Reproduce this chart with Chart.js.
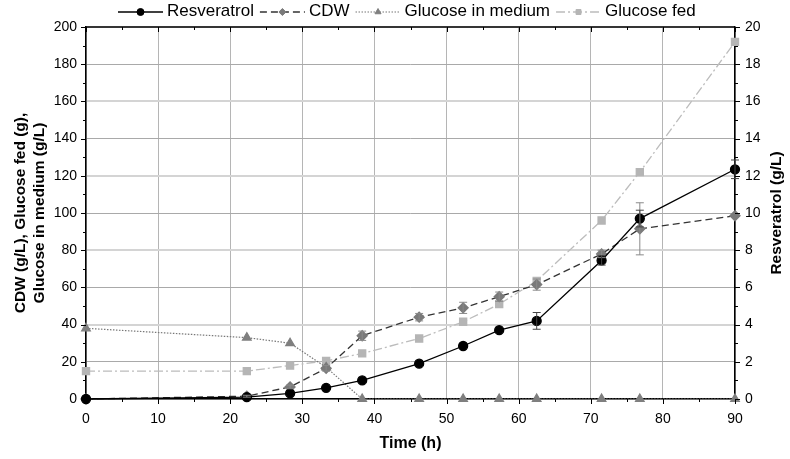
<!DOCTYPE html>
<html>
<head>
<meta charset="utf-8">
<script src="https://cdn.jsdelivr.net/npm/chart.js@4/dist/chart.umd.min.js"></script>
<style>
  body { margin: 0; background: #fff; }
  canvas { display: block; }
</style>
</head>
<body>
<canvas id="chart" width="790" height="459"></canvas>
<script>
// data
var timeH = [0, 22.3, 28.3, 33.3, 38.3, 46.2, 52.3, 57.3, 62.5, 71.5, 76.8, 90];
var resveratrol = [0, 0.1, 0.3, 0.6, 1.0, 1.9, 2.85, 3.7, 4.2, 7.45, 9.7, 12.35];
var resveratrolErr = [0, 0, 0, 0, 0, 0, 0, 0, 0.45, 0.25, 0.45, 0.5];
var cdw = [0, 1.5, 6.5, 16.5, 34, 44, 49, 55, 61.5, 78, 91.5, 98.5];
var cdwErr = [0, 0.5, 1, 1.5, 2.5, 2, 3, 2.5, 3, 2, 14, 0];
var glucoseMedium = [38, 33, 30, 17, 0, 0, 0, 0, 0, 0, 0, 0];
var glucoseFed = [15, 15, 18, 20.5, 24.5, 32.5, 41.5, 51, 63.5, 96, 122, 192];

var FONT = "'Liberation Sans', Arial, sans-serif";

function pts(ys) {
    return timeH.map(function(t, i) { return { x: t, y: ys[i] }; });
}

// error bars, minor ticks, top frame, legend, right title
var extras = {
    id: 'extras',
    afterDatasetsDraw: function(chart) {
        var ctx = chart.ctx;
        var xs = chart.scales.x, yl = chart.scales.y, yr = chart.scales.y1;

        function errBars(vals, errs, scale, color) {
            ctx.save();
            ctx.strokeStyle = color;
            ctx.lineWidth = 1;
            vals.forEach(function(v, i) {
                if (!errs[i]) return;
                var px = xs.getPixelForValue(timeH[i]);
                var top = scale.getPixelForValue(v + errs[i]);
                var bot = scale.getPixelForValue(v - errs[i]);
                ctx.beginPath();
                ctx.moveTo(px, top); ctx.lineTo(px, bot);
                ctx.moveTo(px - 4, top); ctx.lineTo(px + 4, top);
                ctx.moveTo(px - 4, bot); ctx.lineTo(px + 4, bot);
                ctx.stroke();
            });
            ctx.restore();
        }
        errBars(cdw, cdwErr, yl, '#8a8a8a');
        errBars(resveratrol, resveratrolErr, yr, '#444');
    },
    afterDraw: function(chart) {
        var ctx = chart.ctx;
        var xs = chart.scales.x, yl = chart.scales.y, yr = chart.scales.y1;
        var a = chart.chartArea;
        ctx.save();
        ctx.strokeStyle = '#000';
        ctx.lineWidth = 1.5;
        ctx.beginPath();
        ctx.moveTo(a.left, a.top); ctx.lineTo(a.right, a.top);
        ctx.stroke();

        ctx.lineWidth = 1;
        ctx.beginPath();
        var v, p, len;
        for (v = 0; v <= 90; v += 5) {
            p = Math.round(xs.getPixelForValue(v)) + 0.5;
            len = v % 10 === 0 ? 5 : 3;
            ctx.moveTo(p, a.bottom); ctx.lineTo(p, a.bottom + len);
            ctx.moveTo(p, a.top); ctx.lineTo(p, a.top + len);
        }
        for (v = 0; v <= 200; v += 10) {
            p = Math.round(yl.getPixelForValue(v)) + 0.5;
            len = v % 20 === 0 ? 5 : 3;
            ctx.moveTo(a.left, p); ctx.lineTo(a.left - len, p);
        }
        for (v = 0; v <= 20; v += 1) {
            p = Math.round(yr.getPixelForValue(v)) + 0.5;
            len = v % 2 === 0 ? 5 : 3;
            ctx.moveTo(a.right, p); ctx.lineTo(a.right + len, p);
        }
        ctx.stroke();

        // right axis title, reading bottom to top
        ctx.save();
        ctx.translate(777, (a.top + a.bottom) / 2);
        ctx.rotate(-Math.PI / 2);
        ctx.fillStyle = '#000';
        ctx.font = 'bold 15.5px ' + FONT;
        ctx.textAlign = 'center';
        ctx.textBaseline = 'middle';
        ctx.fillText('Resveratrol (g/L)', 0, 0);
        ctx.restore();

        // legend
        var x = 118, y = 11;
        ctx.font = '17px ' + FONT;
        ctx.textBaseline = 'middle';
        ctx.textAlign = 'left';
        chart.data.datasets.forEach(function(d) {
            ctx.save();
            ctx.strokeStyle = d.borderColor;
            ctx.lineWidth = d.borderWidth;
            ctx.setLineDash(d.borderDash || []);
            ctx.beginPath();
            ctx.moveTo(x, y + 1); ctx.lineTo(x + 45, y + 1);
            ctx.stroke();
            ctx.setLineDash([]);
            ctx.fillStyle = d.pointBackgroundColor;
            ctx.strokeStyle = d.pointBorderColor;
            ctx.lineWidth = 1;
            Chart.helpers.drawPoint(ctx, { pointStyle: d.pointStyle, radius: 3.5, rotation: 0, borderWidth: 1 }, x + 22.5, y + 1);
            ctx.restore();
            x += 49;
            ctx.fillStyle = '#000';
            ctx.fillText(d.label, x, y);
            x += ctx.measureText(d.label).width + 6;
        });
        ctx.restore();
    }
};

new Chart(document.getElementById('chart').getContext('2d'), {
    type: 'line',
    data: {
        datasets: [{
            label: 'Resveratrol',
            data: pts(resveratrol),
            yAxisID: 'y1',
            borderColor: '#000',
            borderWidth: 1.3,
            pointStyle: 'circle',
            pointRadius: 4.5,
            pointBackgroundColor: '#000',
            pointBorderColor: '#000',
            clip: false
        }, {
            label: 'CDW',
            data: pts(cdw),
            yAxisID: 'y',
            borderColor: '#333',
            borderWidth: 1.3,
            borderDash: [7, 4],
            pointStyle: 'rectRot',
            pointRadius: 5,
            pointBackgroundColor: '#7a7a7a',
            pointBorderColor: '#7a7a7a',
            clip: false
        }, {
            label: 'Glucose in medium',
            data: pts(glucoseMedium),
            yAxisID: 'y',
            borderColor: '#777',
            borderWidth: 1.2,
            borderDash: [1.5, 1.5],
            pointStyle: 'triangle',
            pointRadius: 5,
            pointBackgroundColor: '#7f7f7f',
            pointBorderColor: '#7f7f7f',
            clip: false
        }, {
            label: 'Glucose fed',
            data: pts(glucoseFed),
            yAxisID: 'y',
            borderColor: '#bcbcbc',
            borderWidth: 1.3,
            borderDash: [9, 3, 2, 3],
            pointStyle: 'rect',
            pointRadius: 5,
            pointBackgroundColor: '#b5b5b5',
            pointBorderColor: '#b5b5b5',
            clip: false
        }]
    },
    options: {
        responsive: false,
        animation: false,
        layout: { padding: { top: 27, left: 0, right: 0, bottom: 0 } },
        plugins: { legend: { display: false }, tooltip: { enabled: false } },
        scales: {
            x: {
                type: 'linear',
                position: 'bottom',
                min: 0,
                max: 90,
                afterFit: function(s) { s.height = 60; },
                ticks: { stepSize: 10, padding: 12, color: '#000', font: { family: FONT, size: 14 } },
                grid: { color: '#b5b5b5', lineWidth: 1, drawTicks: false },
                border: { color: '#000', width: 1.5 },
                title: { display: true, text: 'Time (h)', color: '#000', font: { family: FONT, size: 16, weight: 'bold' }, padding: { top: 0, bottom: 6 } }
            },
            y: {
                position: 'left',
                min: 0,
                max: 200,
                afterFit: function(s) { s.width = 86; },
                ticks: { stepSize: 20, padding: 9, color: '#000', font: { family: FONT, size: 14 } },
                grid: {
                    drawTicks: false,
                    color: function(c) { return (c.tick && c.tick.value % 40 === 0) ? '#d4d4d4' : '#a9a9a9'; },
                    lineWidth: function(c) { return (c.tick && c.tick.value % 40 === 0) ? 2 : 1; }
                },
                border: { color: '#000', width: 1.5 },
                title: { display: true, text: ['CDW (g/L), Glucose fed (g),', 'Glucose in medium (g/L)'], color: '#000', font: { family: FONT, size: 15.5, weight: 'bold' }, padding: { top: 11.5, bottom: 0 } }
            },
            y1: {
                position: 'right',
                min: 0,
                max: 20,
                afterFit: function(s) { s.width = 55; },
                ticks: { stepSize: 2, padding: 10, color: '#000', font: { family: FONT, size: 14 } },
                grid: { display: false, drawTicks: false },
                border: { color: '#000', width: 1.5 }
            }
        }
    },
    plugins: [extras]
});
</script>
</body>
</html>
